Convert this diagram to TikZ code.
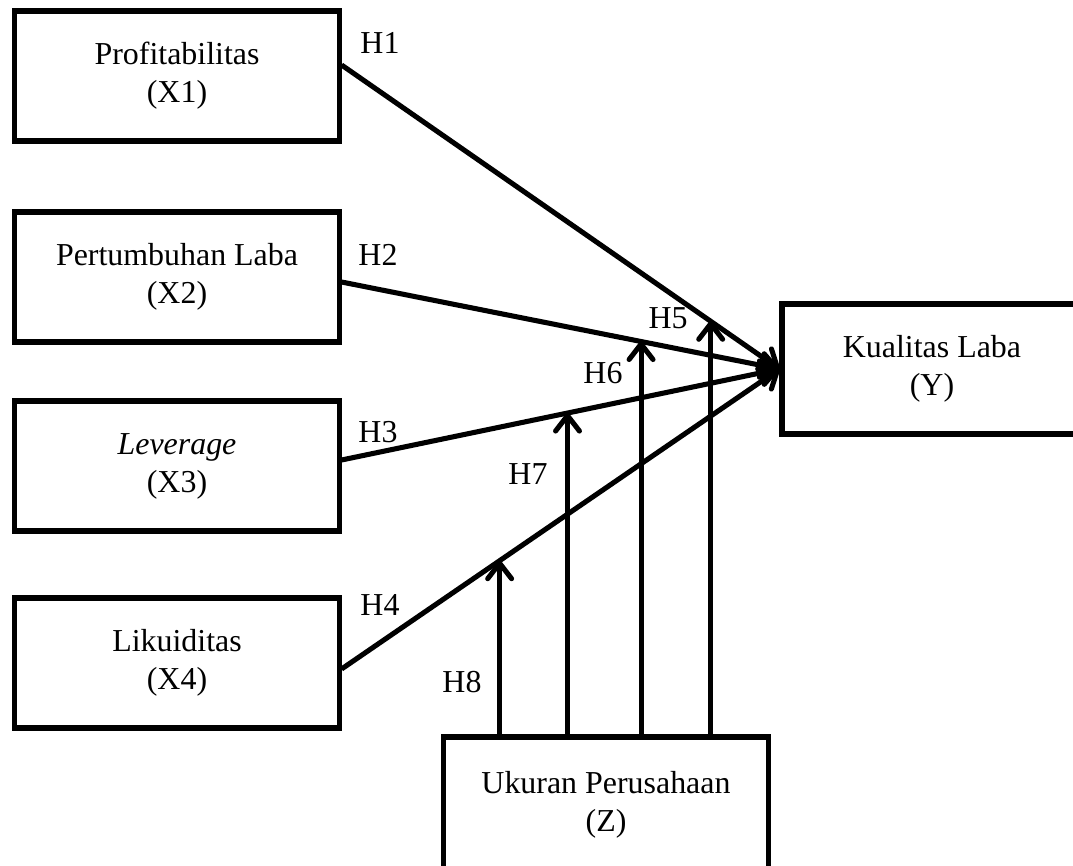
\documentclass[tikz,border=0pt]{standalone}
\usepackage{fontspec}
\setmainfont{Liberation Serif}
\usepackage{tikz}
\usetikzlibrary{arrows.meta}

\begin{document}
\begin{tikzpicture}[x=0.025cm, y=-0.025cm,
        line width=3.6pt,
        font=\fontsize{22.7}{27}\selectfont,
        varbox/.style = {draw, rectangle, align=center,
            minimum width=8.1cm, minimum height=3.25cm},
        hyp/.style = {-{Straight Barb[length=11pt,width=17pt,round]}}]

        \useasboundingbox (0,0) rectangle (1073,866);

        % Independent variables
        \node[varbox] (X1) at (177,76) {Profitabilitas\\(X1)};
        \node[varbox] (X2) at (177,277) {Pertumbuhan Laba\\(X2)};
        \node[varbox] (X3) at (177,466) {\textit{Leverage}\\(X3)};
        \node[varbox] (X4) at (177,663) {Likuiditas\\(X4)};

        % Dependent variable
        \node[varbox, minimum width=7.5cm] (Y) at (932,369) {Kualitas Laba\\(Y)};

        % Moderating variable
        \node[varbox, minimum height=3.4cm] (Z) at (606,805) {Ukuran Perusahaan\\(Z)};

        % Direct effects
        \draw[hyp] ([yshift=2.75mm]X1.east) -- coordinate[pos=0.843] (m1) (Y.west);
        \draw[hyp] ([yshift=-1.25mm]X2.east) -- coordinate[pos=0.684] (m2) (Y.west);
        \draw[hyp] ([yshift=1.5mm]X3.east) -- coordinate[pos=0.516] (m3) (Y.west);
        \draw[hyp] ([yshift=-1.5mm]X4.east) -- coordinate[pos=0.361] (m4) (Y.west);

        % Moderating effects
        \draw[hyp] (m1 |- Z.north) -- (m1);
        \draw[hyp] (m2 |- Z.north) -- (m2);
        \draw[hyp] (m3 |- Z.north) -- (m3);
        \draw[hyp] (m4 |- Z.north) -- (m4);

        % Hypothesis labels
        \node (H1) at (380,43) {H1};
        \node (H2) at (378,255) {H2};
        \node (H3) at (378,432) {H3};
        \node (H4) at (380,605) {H4};
        \node (H5) at (668,318) {H5};
        \node (H6) at (603,373) {H6};
        \node (H7) at (528,474) {H7};
        \node (H8) at (462,682) {H8};

    \end{tikzpicture}
\end{document}
